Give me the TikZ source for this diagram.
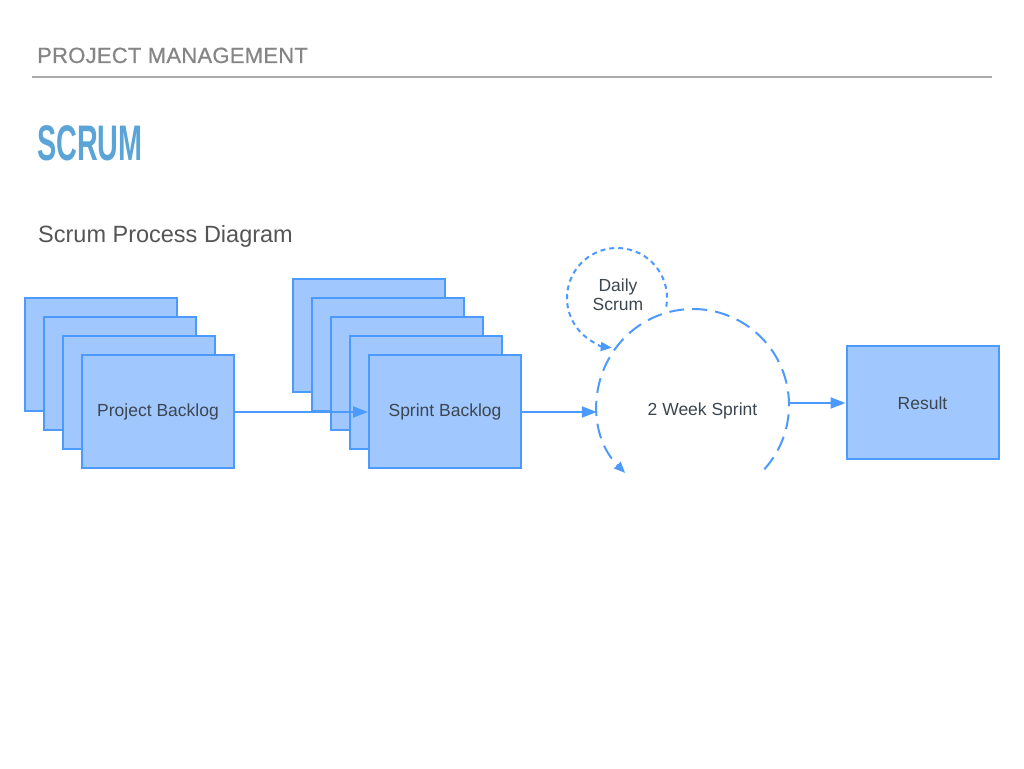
\documentclass[tikz,border=0pt]{standalone}
\usepackage{fontspec}
\setmainfont{Liberation Sans}
\usetikzlibrary{arrows.meta}
\definecolor{boxfill}{HTML}{A1C7FF}
\definecolor{boxline}{HTML}{4D9AFF}
\definecolor{txt}{HTML}{3C4650}
\definecolor{hdr}{HTML}{858585}
\definecolor{ttl}{HTML}{5BA4D8}
\definecolor{sub}{HTML}{555555}
\begin{document}
\begin{tikzpicture}[x=1pt,y=1pt,
  card/.style={draw=boxline, fill=boxfill, line width=2pt, minimum width=152pt, minimum height=113pt, inner sep=0pt, text=txt, font=\fontsize{17.5}{20}\selectfont},
  conn/.style={draw=boxline, line width=2pt, -{Triangle[length=15pt,width=11pt]}},
  bigdash/.style={draw=boxline, line width=2pt, dash pattern=on 15pt off 8pt, -{Triangle[length=11pt,width=9pt]}},
  smalldash/.style={draw=boxline, line width=2pt, dash pattern=on 5pt off 4pt, -{Triangle[length=11pt,width=9pt]}},
  lbl/.style={text=txt, font=\fontsize{17.5}{19}\selectfont, inner sep=0pt, align=center}]
\useasboundingbox (0,0) rectangle (1024,768);
\fill[white] (0,0) rectangle (1024,768);
% header
\node[anchor=base west, inner sep=0pt, text=hdr, font=\fontsize{22}{24}\selectfont\addfontfeatures{LetterSpace=1.2,FakeBold=0.6}] (hd) at (37,705) {PROJECT MANAGEMENT};
\coordinate (hl1) at (32,691);
\coordinate (hl2) at (992,691);
\draw[color=hdr!70, line width=2pt] (hl1) -- (hl2);
\node[anchor=base west, inner sep=0pt, text=ttl, font=\fontsize{50}{52}\selectfont\bfseries] (title) at (37,607) {\scalebox{0.575}[1]{SCRUM}};
\node[anchor=base west, inner sep=0pt, text=sub, font=\fontsize{23.5}{26}\selectfont] (subt) at (38,525) {Scrum Process Diagram};
% project backlog stack
\node[card] (p1) at (101,413) {};
\node[card] (p2) at (120,394) {};
\node[card] (p3) at (139,375) {};
\node[card] (pb) at (158,356) {Project Backlog};
% sprint backlog stack
\node[card] (s1) at (369,432) {};
\node[card] (s2) at (388,413) {};
\node[card] (s3) at (407,394) {};
\node[card] (s4) at (426,375) {};
\node[card] (sb) at (445,356) {Sprint Backlog};
% result
\node[card] (res) at (922.5,365) {Result};
% sprint circle
\node[circle, minimum size=192pt, inner sep=0pt] (sc) at (693,363) {};
\node[lbl] (sct) at (702.5,357) {2 Week Sprint};
\node[circle, minimum size=100pt, inner sep=0pt] (dc) at (617,470) {};
\node[lbl] (dct) at (618,473) {Daily\\Scrum};
\draw[bigdash] (sc.center) ++(-42:96pt) arc[start angle=-42, end angle=225, radius=96pt];
\draw[smalldash] (dc.center) ++(-10:50pt) arc[start angle=-10, end angle=264, radius=50pt];
% connectors
\draw[conn] (pb.east) -- (sb.west);
\draw[conn] (sb.east) -- (sb.east -| sc.west);
\draw[conn] (sc.east |- res.west) -- (res.west);
\end{tikzpicture}
\end{document}
